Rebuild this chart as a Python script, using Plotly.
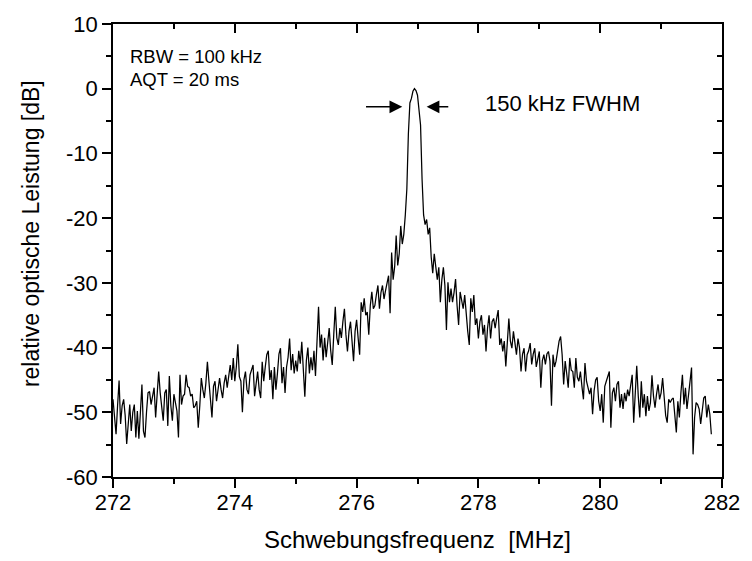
import plotly.graph_objects as go

# ---- data ----
freq_start = 272.0      # MHz, first sample
freq_step = 0.025       # MHz, sample spacing
power_db = [
    -48, -50.8, -53.4, -49, -45.1, -51.8, -49, -48, -50.5, -54.9, -51, -48.8, -52.9, -50, -48.8, -53.9, -49.8, -54.1, -50, -45.7,
    -52.9, -53.9, -50, -47, -46.8, -48.8, -47.5, -46.2, -50.8, -46.7, -43.7, -47, -49.3, -51.3, -47, -46.5, -52.1, -44.4, -49, -51.3,
    -47.2, -48.5, -49.8, -53.9, -44.2, -48.8, -47.5, -47.2, -44.2, -46, -46.2, -47.5, -47.2, -49.3, -49, -48.3, -52.4, -49, -44.7, -46.5,
    -47.8, -45.5, -42.2, -45.2, -48, -50.8, -46, -45.2, -48.3, -46.5, -44.7, -46.5, -47.8, -45.5, -44.2, -46.2, -44, -42.7, -45, -41.6,
    -45.2, -43, -39.5, -44.5, -45.2, -50, -45, -43.7, -46.5, -47.2, -44.2, -43.2, -42.7, -47.5, -45, -43.7, -46.5, -47.8, -42.2, -45.2,
    -43, -41.1, -40.5, -45, -43.5, -48, -43, -46.5, -44, -41, -40.1, -45.5, -43, -47, -43, -41.5, -38.6, -43.5, -41, -44,
    -42, -43.7, -40.5, -42.5, -39.1, -43, -47.6, -42, -40, -44, -41.5, -43.5, -40.5, -44.4, -39, -33.7, -40, -38, -42, -38.5,
    -41.5, -39.5, -37, -40.5, -42.7, -38, -33.7, -38.5, -39.6, -37, -38.5, -36, -34, -38, -40.6, -37.5, -36, -39, -42.1, -37.5,
    -35.7, -38.5, -41.1, -33, -34.5, -32.4, -35, -34.5, -38, -33.5, -31.4, -34, -33.5, -31.8, -30.4, -34, -31.5, -30.4, -32.5, -31.2,
    -30.2, -28.9, -34.7, -25.3, -29.5, -27.5, -22.7, -27.3, -25.5, -21.2, -24, -22.5, -19.5, -15.5, -7, -2.2, -1.5, -0.4, 0, -0.3,
    -1.0, -4.0, -5.6, -14, -19.5, -21, -20.2, -22.5, -21.5, -26, -28.5, -25.5, -27.8, -29.5, -27.6, -33, -29.5, -27.6, -30.4, -37.3,
    -29.9, -33, -30.9, -33, -31.5, -29.4, -33.5, -36.5, -31.4, -33, -34, -31.9, -35, -37.5, -39.6, -32.4, -34.5, -31.9, -36.5, -35.5,
    -38.6, -36, -35, -38, -36.5, -40.6, -37, -35, -38.6, -36, -35.5, -37, -35.5, -34.2, -39.6, -38.6, -40.6, -39, -42.9, -38,
    -35.5, -39, -40.1, -37.5, -39.5, -41.1, -38.6, -40, -43.7, -41, -40.1, -43.7, -41.1, -40.5, -39.3, -42.6, -41, -40.1, -43, -41.5,
    -40.6, -46.2, -42, -41.1, -42.6, -41, -40.6, -42.1, -49, -41.1, -43, -42.1, -40.1, -39, -38.3, -41.1, -45.7, -42.1, -44, -46.2,
    -41.6, -43.5, -43.7, -46.2, -41.6, -44.6, -45.2, -43.7, -46, -48, -42.4, -45.2, -46.2, -47.2, -46.2, -50.3, -46.7, -45, -44.6, -48.3,
    -49.8, -47.2, -51.6, -46, -45.2, -44.5, -43.7, -52.4, -47, -46.2, -48.3, -45.7, -45.2, -49.3, -47.2, -49.5, -47, -48.3, -46.5, -47.5,
    -46, -44.2, -51.6, -47.5, -42.8, -47.5, -50.8, -45.2, -49.3, -47.2, -50.6, -47.5, -49.8, -48.5, -44.3, -47.5, -49.3, -47.2, -45.7, -48,
    -47, -44.7, -48.3, -50.5, -51.6, -48, -48.5, -48, -47.8, -50.8, -53.1, -48.3, -50.8, -47, -44.2, -48.8, -46.2, -49.5, -47.5, -45.5,
    -43.1, -56.5, -50.8, -48.5, -48.8, -49.5, -51.8, -49.8, -47.8, -47.5, -50.8, -48.8, -50.3, -53.4,
]

x_range = [272, 282]
y_range = [-60, 10]
x_major = [272, 274, 276, 278, 280, 282]
x_labels = ["272", "274", "276", "278", "280", "282"]
x_minor = [273, 275, 277, 279, 281]
y_major = [-60, -50, -40, -30, -20, -10, 0, 10]
y_labels = ["-60", "-50", "-40", "-30", "-20", "-10", "0", "10"]
y_minor = [-55, -45, -35, -25, -15, -5, 5]

x_title = "Schwebungsfrequenz\u00a0 [MHz]"
y_title = "relative optische Leistung [dB]"
info_lines = ["RBW = 100 kHz", "AQT = 20 ms"]
fwhm_label = "150 kHz FWHM"

FONT = "Liberation Sans, Arial, Helvetica, sans-serif"
LW = 1.5

fig = go.Figure()
fig.add_trace(go.Scatter(
    x0=freq_start, dx=freq_step, y=power_db, mode="lines",
    line=dict(color="black", width=1.25), hoverinfo="skip", showlegend=False))
# invisible copy that carries the mirrored (top/right) axes
fig.add_trace(go.Scatter(
    x0=freq_start, dx=freq_step, y=power_db, mode="lines", xaxis="x2", yaxis="y2",
    line=dict(color="rgba(0,0,0,0)", width=0), hoverinfo="skip", showlegend=False))

common = dict(showgrid=False, zeroline=False, tickcolor="black", tickwidth=LW)

fig.update_layout(
    width=752, height=561,
    margin=dict(l=113, r=20, t=19, b=84),
    paper_bgcolor="white", plot_bgcolor="white",
    font=dict(family=FONT, color="black", size=22),
    xaxis=dict(range=x_range, tickmode="array", tickvals=x_major, ticktext=x_labels,
               ticks="outside", ticklen=9, ticklabelstandoff=-4,
               showline=True, linecolor="black", linewidth=LW, mirror=True,
               tickfont=dict(size=22),
               minor=dict(tickmode="array", tickvals=x_minor, ticks="outside", ticklen=5,
                          tickcolor="black", tickwidth=LW),
               **common),
    yaxis=dict(range=y_range, tickmode="array", tickvals=y_major, ticktext=y_labels,
               ticks="outside", ticklen=9,
               showline=True, linecolor="black", linewidth=LW, mirror=True,
               tickfont=dict(size=22),
               minor=dict(tickmode="array", tickvals=y_minor, ticks="outside", ticklen=5,
                          tickcolor="black", tickwidth=LW),
               **common),
    xaxis2=dict(range=x_range, overlaying="x", side="top", tickmode="array", tickvals=x_major,
                ticks="inside", ticklen=9, showticklabels=False, showline=False,
                minor=dict(tickmode="array", tickvals=x_minor, ticks="inside", ticklen=5,
                           tickcolor="black", tickwidth=LW),
                **common),
    yaxis2=dict(range=y_range, overlaying="y", side="right", tickmode="array", tickvals=y_major,
                ticks="inside", ticklen=9, showticklabels=False, showline=False,
                minor=dict(tickmode="array", tickvals=y_minor, ticks="inside", ticklen=5,
                           tickcolor="black", tickwidth=LW),
                **common),
)

ann = []
# axis titles
ann.append(dict(text=x_title, xref="paper", yref="paper", x=0.5, y=-0.1376,
                xanchor="center", yanchor="middle", showarrow=False, font=dict(size=24)))
ann.append(dict(text=y_title, xref="paper", yref="paper", x=-0.1357, y=0.537, textangle=-90,
                xanchor="center", yanchor="middle", showarrow=False, font=dict(size=23)))
# info text
ann.append(dict(text=info_lines[0], xref="x", yref="y", x=272.24, y=5.0,
                xanchor="left", yanchor="middle", showarrow=False, font=dict(size=18.5)))
ann.append(dict(text=info_lines[1], xref="x", yref="y", x=272.24, y=1.5,
                xanchor="left", yanchor="middle", showarrow=False, font=dict(size=18.5)))
# FWHM label and arrows
ann.append(dict(text=fwhm_label, xref="x", yref="y", x=278.08, y=-2.3,
                xanchor="left", yanchor="middle", showarrow=False, font=dict(size=22)))
ann.append(dict(text="", xref="x", yref="y", x=276.75, y=-2.8, axref="x", ayref="y",
                ax=276.13, ay=-2.8, showarrow=True, arrowhead=2, arrowsize=1.7,
                arrowwidth=1.5, arrowcolor="black"))
ann.append(dict(text="", xref="x", yref="y", x=277.15, y=-2.8, axref="x", ayref="y",
                ax=277.53, ay=-2.8, showarrow=True, arrowhead=2, arrowsize=1.7,
                arrowwidth=1.5, arrowcolor="black"))
fig.update_layout(annotations=ann)

fig.write_html("out.html")
